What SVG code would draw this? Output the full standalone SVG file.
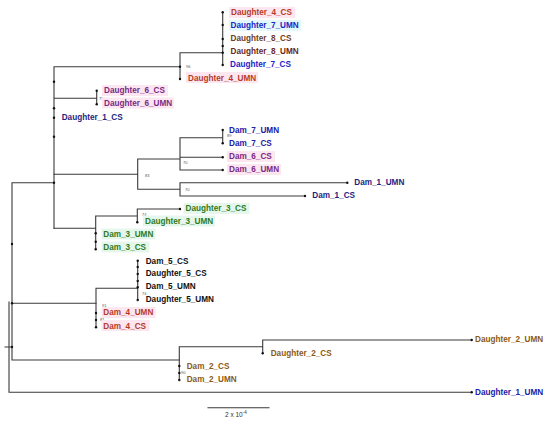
<svg xmlns="http://www.w3.org/2000/svg" width="550" height="424" viewBox="0 0 550 424">
<style>
.e{stroke:#3a3a3a;stroke-width:1.1;fill:none;stroke-linecap:square}
.t{font-family:"Liberation Sans",Arial,sans-serif;font-weight:bold;font-size:8.2px}
.b{font-family:"Liberation Sans",Arial,sans-serif;font-size:4px;fill:#555}
.s{font-family:"Liberation Sans",Arial,sans-serif;font-size:6.5px;fill:#333}
.d{fill:#111}
.pk{fill:#fce6f0}.cy{fill:#e2f8fb}.mt{fill:#e5f7ec}
.red{fill:#b83a26}.brn{fill:#6e3c1e}.mar{fill:#6a2818}.blu{fill:#2323c8}.pur{fill:#7a2a86}.nav{fill:#1e1e80}.dblu{fill:#2020a8}.grn{fill:#2f7a1e}.blk{fill:#111}.ol{fill:#8a5a14}
</style>
<rect width="550" height="424" fill="#fff"/>
<g id="connectors">
<path class="e" d="M9,302V392.3H471.7M5,347H12M12,182.7V360M12,182.7H54M12,303.3H96M12,360H179.3"/>
<path class="e" d="M54,66.7V228.3M54,66.7H180M180,52.7V79M180,52.7H222.7M222.7,12.3V65M54,98.3H96.7M96.7,90.7V104.3"/>
<path class="e" d="M54,174.3H137.7M137.7,159V189.3M137.7,159H180M180,137.7V170M180,137.7H222.7M222.7,130V143.3M180,157.3H222.7M180,170H222.7M137.7,189.3H180M180,182.7V196M180,182.7H347.3M180,196H305"/>
<path class="e" d="M54,228.3H95.7M95.7,216V249.3M95.7,216H137.3M137.3,209V222.3M137.3,209H180"/>
<path class="e" d="M96,288.3V327.3M96,288.3H137.7M137.7,260.7V300"/>
<path class="e" d="M179.3,346.7V380M179.3,346.7H262.7M262.7,340V353.3M262.7,340H471.7"/>
<path class="e" d="M208,407.7H269"/>
</g>
<g id="internal-dots" class="d">
<circle cx="54" cy="81.7" r="1.2"/><circle cx="54" cy="108.3" r="1.2"/><circle cx="54" cy="136.7" r="1.2"/><circle cx="54" cy="182.7" r="1.2"/><circle cx="12" cy="244" r="1.2"/><circle cx="95.7" cy="241.7" r="1.2"/><circle cx="180" cy="66.7" r="1.2"/><circle cx="222.7" cy="46" r="1.2"/><circle cx="137.7" cy="267" r="1.2"/><circle cx="137.7" cy="281" r="1.2"/><circle cx="96" cy="320" r="1.2"/><circle cx="179.3" cy="373" r="1.2"/><circle cx="12" cy="303.3" r="1.2"/><circle cx="12" cy="347" r="1.2"/>
</g>
<g id="bootstrap" class="b">
<text x="186" y="68">96</text><text x="99" y="99.5">75</text><text x="227" y="137">89</text><text x="183" y="164">70</text><text x="145" y="176.5">83</text><text x="185" y="191">70</text><text x="142" y="216">74</text><text x="142" y="295">74</text><text x="102" y="307">91</text><text x="100" y="320.5">81</text><text x="181" y="373.5">90</text>
</g>
<g id="Daughter_4_CS"><rect class="pk" x="229" y="7" width="66" height="11"/><circle class="d" cx="222.7" cy="12.3" r="1.2"/><text class="t red" x="231" y="15">Daughter_4_CS</text></g>
<g id="Daughter_7_UMN"><rect class="cy" x="229" y="20" width="72" height="11"/><circle class="d" cx="222.7" cy="25" r="1.2"/><text class="t blu" x="230.5" y="28">Daughter_7_UMN</text></g>
<g id="Daughter_8_CS"><circle class="d" cx="222.7" cy="39" r="1.2"/><text class="t brn" x="230.5" y="41.3">Daughter_8_CS</text></g>
<g id="Daughter_8_UMN"><circle class="d" cx="222.7" cy="52.7" r="1.2"/><text class="t mar" x="230.5" y="54.3">Daughter_8_UMN</text></g>
<g id="Daughter_7_CS"><circle class="d" cx="222.7" cy="65" r="1.2"/><text class="t blu" x="230" y="67">Daughter_7_CS</text></g>
<g id="Daughter_4_UMN"><rect class="pk" x="186" y="72" width="72" height="11"/><circle class="d" cx="180" cy="79" r="1.2"/><text class="t red" x="188" y="80.5">Daughter_4_UMN</text></g>
<g id="Daughter_6_CS"><rect class="pk" x="102" y="85" width="66" height="11"/><circle class="d" cx="96.7" cy="90.7" r="1.2"/><text class="t pur" x="104" y="93.2">Daughter_6_CS</text></g>
<g id="Daughter_6_UMN"><rect class="pk" x="102" y="97.5" width="72" height="11"/><circle class="d" cx="96.7" cy="104.3" r="1.2"/><text class="t pur" x="104" y="105.9">Daughter_6_UMN</text></g>
<g id="Daughter_1_CS"><circle class="d" cx="54" cy="117.7" r="1.2"/><text class="t nav" x="61.7" y="119.8">Daughter_1_CS</text></g>
<g id="Dam_7_UMN"><circle class="d" cx="222.7" cy="130" r="1.2"/><text class="t dblu" x="229" y="132.5">Dam_7_UMN</text></g>
<g id="Dam_7_CS"><circle class="d" cx="222.7" cy="143.3" r="1.2"/><text class="t dblu" x="229" y="145.9">Dam_7_CS</text></g>
<g id="Dam_6_CS"><rect class="pk" x="227" y="151" width="48" height="11"/><circle class="d" cx="222.7" cy="157.3" r="1.2"/><text class="t pur" x="229" y="158.9">Dam_6_CS</text></g>
<g id="Dam_6_UMN"><rect class="pk" x="227" y="164" width="54" height="11"/><circle class="d" cx="222.7" cy="170" r="1.2"/><text class="t pur" x="229" y="172.2">Dam_6_UMN</text></g>
<g id="Dam_1_UMN"><circle class="d" cx="347.3" cy="182.7" r="1.2"/><text class="t nav" x="354.3" y="185.1">Dam_1_UMN</text></g>
<g id="Dam_1_CS"><circle class="d" cx="305" cy="196" r="1.2"/><text class="t nav" x="312.3" y="197.8">Dam_1_CS</text></g>
<g id="Daughter_3_CS"><rect class="mt" x="183.5" y="203" width="66" height="11"/><circle class="d" cx="180" cy="209" r="1.2"/><text class="t grn" x="185.5" y="211.3">Daughter_3_CS</text></g>
<g id="Daughter_3_UMN"><rect class="mt" x="143" y="215.5" width="72" height="11"/><circle class="d" cx="137.3" cy="222.3" r="1.2"/><text class="t grn" x="145" y="224">Daughter_3_UMN</text></g>
<g id="Dam_3_UMN"><rect class="mt" x="101.5" y="228.5" width="54" height="11"/><circle class="d" cx="95.7" cy="233.3" r="1.2"/><text class="t grn" x="103.3" y="237">Dam_3_UMN</text></g>
<g id="Dam_3_CS"><rect class="mt" x="101.5" y="241.5" width="48" height="11"/><circle class="d" cx="95.7" cy="249.3" r="1.2"/><text class="t grn" x="103.3" y="250.3">Dam_3_CS</text></g>
<g id="Dam_5_CS"><circle class="d" cx="137.7" cy="260.7" r="1.2"/><text class="t blk" x="145.7" y="263.7">Dam_5_CS</text></g>
<g id="Daughter_5_CS"><circle class="d" cx="137.7" cy="274" r="1.2"/><text class="t blk" x="145.7" y="276.3">Daughter_5_CS</text></g>
<g id="Dam_5_UMN"><circle class="d" cx="137.7" cy="287.3" r="1.2"/><text class="t blk" x="145.7" y="289">Dam_5_UMN</text></g>
<g id="Daughter_5_UMN"><circle class="d" cx="137.7" cy="300" r="1.2"/><text class="t blk" x="145.7" y="302.3">Daughter_5_UMN</text></g>
<g id="Dam_4_UMN"><rect class="pk" x="101.5" y="307" width="54" height="11"/><circle class="d" cx="96" cy="313" r="1.2"/><text class="t red" x="103.3" y="315.3">Dam_4_UMN</text></g>
<g id="Dam_4_CS"><rect class="pk" x="101.5" y="320" width="48" height="11"/><circle class="d" cx="96" cy="327.3" r="1.2"/><text class="t red" x="103.3" y="328.7">Dam_4_CS</text></g>
<g id="Daughter_2_UMN"><circle class="d" cx="471.7" cy="340" r="1.2"/><text class="t ol" x="475" y="342.3">Daughter_2_UMN</text></g>
<g id="Daughter_2_CS"><circle class="d" cx="262.7" cy="353.3" r="1.2"/><text class="t ol" x="270.7" y="355.7">Daughter_2_CS</text></g>
<g id="Dam_2_CS"><circle class="d" cx="179.3" cy="366" r="1.2"/><text class="t ol" x="186.7" y="368.7">Dam_2_CS</text></g>
<g id="Dam_2_UMN"><circle class="d" cx="179.3" cy="380" r="1.2"/><text class="t ol" x="186.7" y="382">Dam_2_UMN</text></g>
<g id="Daughter_1_UMN"><circle class="d" cx="471.7" cy="392.3" r="1.2"/><text class="t dblu" x="475" y="395">Daughter_1_UMN</text></g>
<g id="scale"><text class="s" x="225" y="416.5">2 x 10<tspan font-size="4.5" dy="-2.5">-4</tspan></text></g>
</svg>
